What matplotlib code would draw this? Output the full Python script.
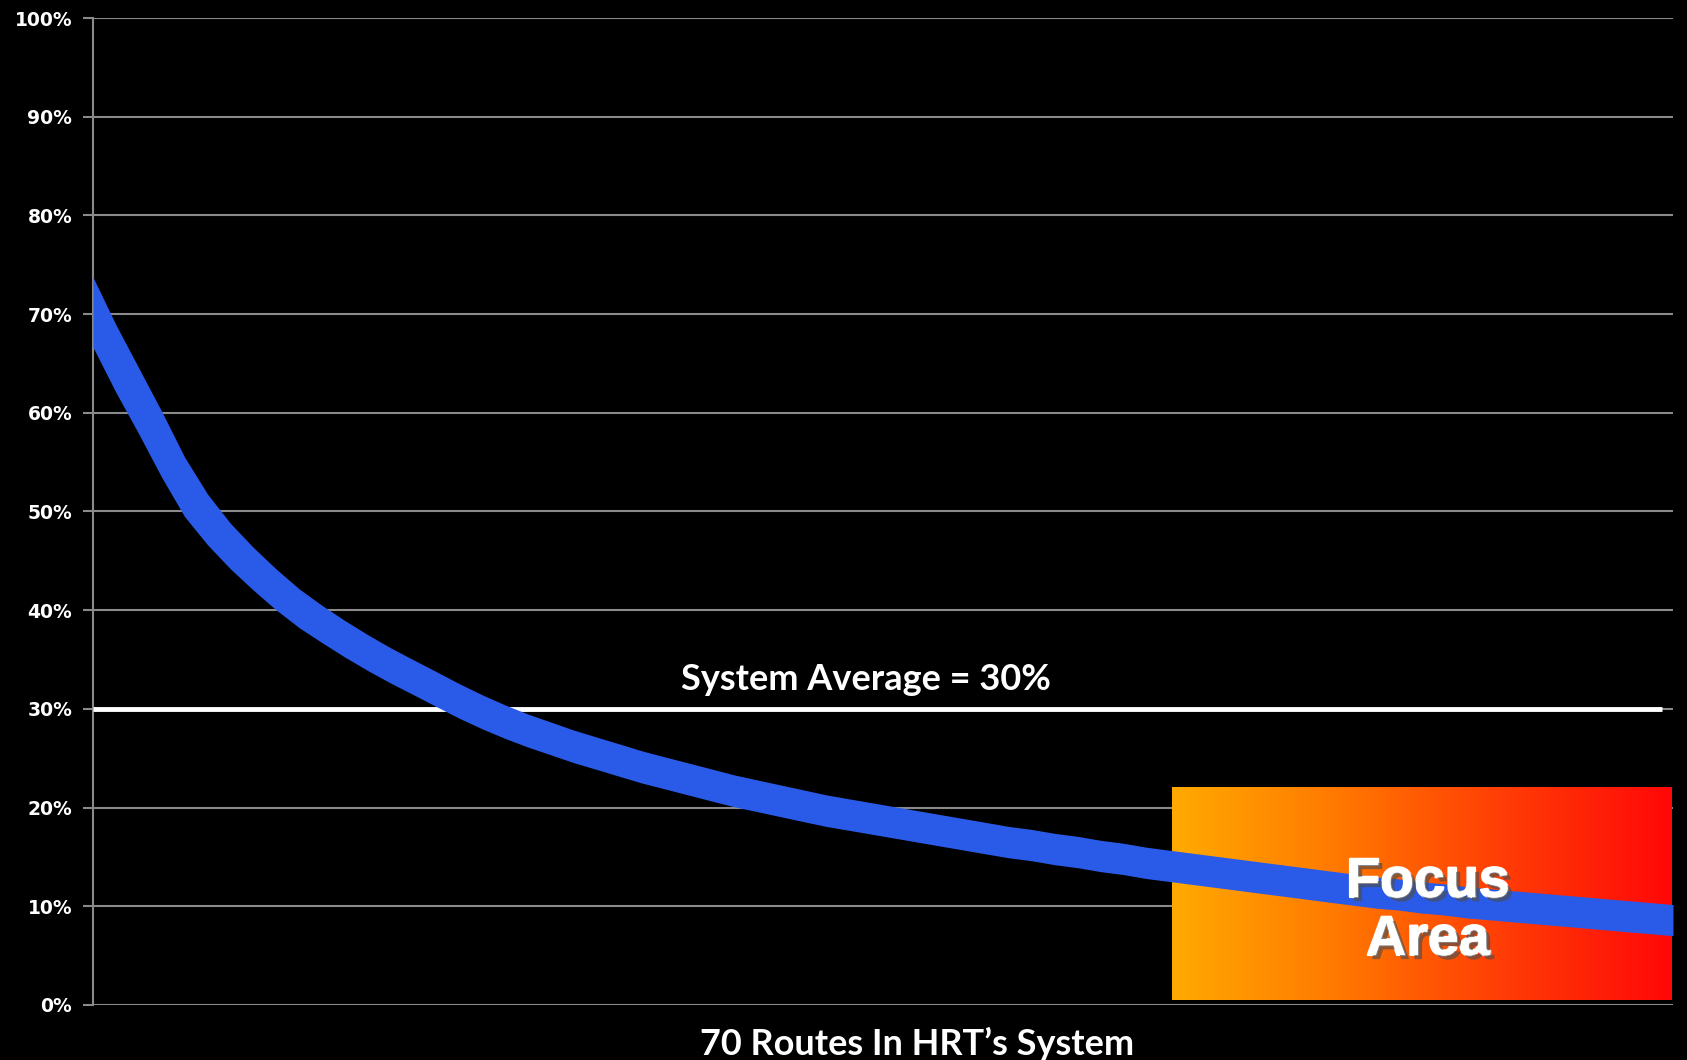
import matplotlib.pyplot as plt
import matplotlib.patheffects as pe
import numpy as np
from matplotlib.colors import LinearSegmentedColormap

# share per route, sorted high to low
share = [
    70.2, 65.5, 61.2, 56.8, 52.5, 49.2, 46.5, 44.2, 42.1, 40.2,
    38.6, 37.1, 35.7, 34.4, 33.2, 32.0, 30.8, 29.7, 28.7, 27.8,
    27.0, 26.2, 25.5, 24.8, 24.1, 23.5, 22.9, 22.3, 21.7, 21.2,
    20.7, 20.2, 19.7, 19.3, 18.9, 18.5, 18.1, 17.7, 17.3, 16.9,
    16.5, 16.2, 15.8, 15.5, 15.1, 14.8, 14.4, 14.1, 13.8, 13.5,
    13.2, 12.9, 12.6, 12.3, 12.0, 11.7, 11.4, 11.2, 10.9, 10.7,
    10.4, 10.2, 10.0, 9.8, 9.6, 9.4, 9.2, 9.0, 8.8, 8.6,
]
routes = np.arange(1, len(share) + 1)
system_avg = 30
yticks = list(range(0, 101, 10))
ytick_labels = [f"{v}%" for v in yticks]
focus_x = (48.1, 69.9)
focus_y = (0.5, 22.0)
grad_colors = ["#FFAA00", "#FF7800", "#FF3C06", "#FF0808"]

BAND_PX = 31  # thickness of the blue ribbon, in pixels

fig = plt.figure(figsize=(16.87, 10.60), dpi=100, facecolor="black")
ax = fig.add_axes([93 / 1687, 55 / 1060, (1673 - 93) / 1687, (1005 - 18) / 1060])
ax.set_facecolor("black")

ax.set_xlim(1, 70)
ax.set_ylim(0, 100)

ax.set_yticks(yticks)
ax.set_yticklabels(ytick_labels)
ax.tick_params(axis="y", colors="#8a8a8a", length=7, width=1.5, pad=8,
               labelcolor="white", labelsize=13.5)
for lbl in ax.get_yticklabels():
    lbl.set_fontweight("bold")
ax.set_xticks([])
ax.yaxis.grid(True, color="#8a8a8a", linewidth=1.5)
ax.set_axisbelow(True)

for side in ("top", "right", "bottom"):
    ax.spines[side].set_visible(False)
ax.spines["left"].set_color("#8a8a8a")
ax.spines["left"].set_linewidth(1.5)

# gradient "focus area" box
cmap = LinearSegmentedColormap.from_list("focus", grad_colors)
grad = np.linspace(0, 1, 256).reshape(1, -1)
ax.imshow(grad, cmap=cmap, aspect="auto", zorder=2,
          extent=[focus_x[0], focus_x[1], focus_y[0], focus_y[1]])

# system average line
ax.plot([1, 69.5], [system_avg, system_avg], color="white", linewidth=3.5,
        zorder=3, solid_capstyle="butt")
ax.text(34.75, 31.9, "System Average = 30%", color="white",
        fontsize=26, fontfamily="Lato", fontweight="bold",
        ha="center", va="baseline", zorder=6)

# route curve as a ribbon of constant thickness, cut square at the axis
p0 = ax.transData.transform((0, 0))
p1 = ax.transData.transform((1, 1))
px_x, px_y = p1 - p0
y = np.asarray(share, dtype=float)
slope_px = np.gradient(y, routes) * px_y / px_x
half = (BAND_PX / 2) * np.sqrt(1 + slope_px ** 2) / px_y
ax.fill_between(routes, y - half, y + half, color="#2A5BE8", linewidth=0,
                zorder=4)

shadow = [pe.withStroke(linewidth=1.5, foreground="white"),
          pe.withSimplePatchShadow(offset=(3, -3), alpha=0.65),
          pe.Normal()]
ax.text(59.3, 10.94, "Focus", color="white", fontsize=40,
        fontfamily="Liberation Sans", fontweight="bold", ha="center",
        va="baseline", zorder=7, path_effects=shadow)
ax.text(59.3, 5.07, "Area", color="white", fontsize=40,
        fontfamily="Liberation Sans", fontweight="bold", ha="center",
        va="baseline", zorder=7, path_effects=shadow)

fig.text(917 / 1687, 5 / 1060, "70 Routes In HRT\u2019s System",
         color="white", fontsize=26, fontfamily="Lato", fontweight="bold",
         ha="center", va="baseline")

fig.savefig("out.png", dpi=100, facecolor="black")
